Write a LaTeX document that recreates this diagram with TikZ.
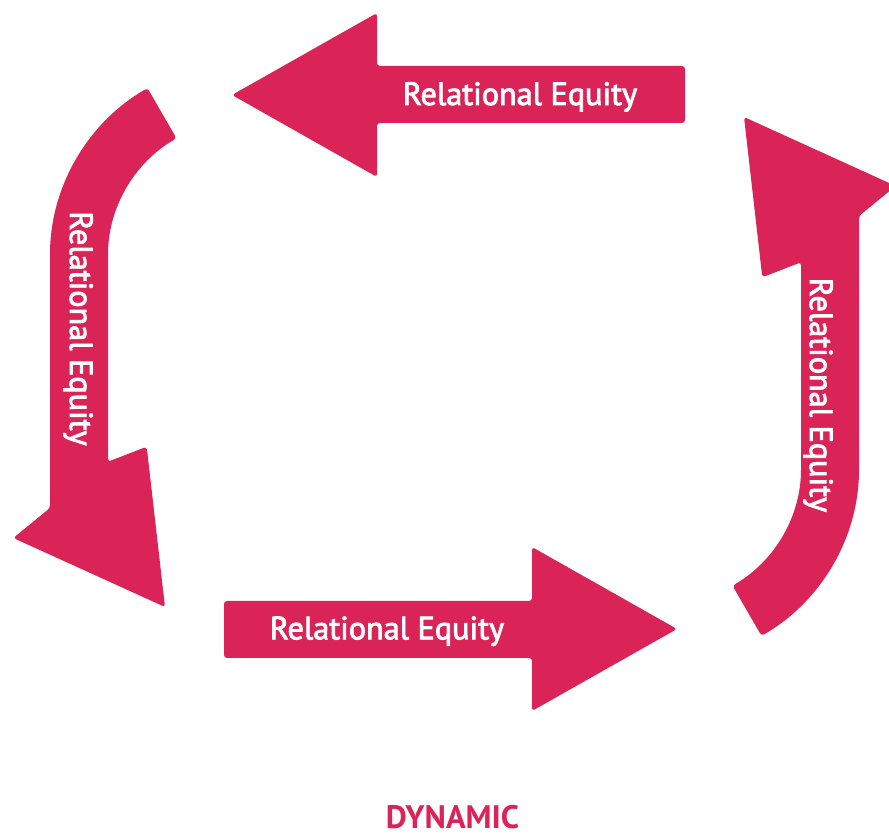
\documentclass[tikz,border=0pt]{standalone}
\usepackage{fontspec}
\setmainfont{PT Sans}
\newfontfamily\semiboldfont{PT Sans}[FakeBold=2.6]
\definecolor{crimson}{RGB}{218,36,88}
\begin{document}
\begin{tikzpicture}[x=1pt,y=1pt,
  blockarrow/.style={fill=crimson,draw=none,rounded corners=3pt},
  arrowlabel/.style={text=white,inner sep=0pt,font=\fontsize{32.2}{38}\semiboldfont},
  titlelabel/.style={text=crimson,inner sep=0pt,font=\fontsize{32.5}{38}\selectfont\bfseries}]
\useasboundingbox (0,0) rectangle (889,837);
\coordinate (mid) at (454.5,475);

% straight arrow pointing left (top) and its half-turn copy (bottom)
\path[blockarrow] (232,742) -- (377,824) -- (377,771) -- (685,771)
  -- (685,714) -- (377,714) -- (377,660) -- cycle;
\path[blockarrow,rotate around={180:(mid)}] (232,742) -- (377,824) -- (377,771) -- (685,771)
  -- (685,714) -- (377,714) -- (377,660) -- cycle;

% bent arrow on the left (down) and its half-turn copy on the right (up)
\path[blockarrow] (147.5,748.9) arc[start angle=120,end angle=180,radius=195]
  -- (50,329) -- (13.3,299) -- (165,230) -- (146.7,390.3) -- (108,375.3)
  -- (108,580) arc[start angle=180,end angle=120,radius=137] -- cycle;
\path[blockarrow,rotate around={180:(mid)}] (147.5,748.9) arc[start angle=120,end angle=180,radius=195]
  -- (50,329) -- (13.3,299) -- (165,230) -- (146.7,390.3) -- (108,375.3)
  -- (108,580) arc[start angle=180,end angle=120,radius=137] -- cycle;

% labels
\node[arrowlabel,anchor=base] (top) at (520,732) {Relational Equity};
\node[arrowlabel,anchor=base] (bottom) at (387,197.7) {Relational Equity};
\node[arrowlabel,anchor=base,rotate=-90] (left) at (70,508.5) {Relational Equity};
\node[arrowlabel,anchor=base,rotate=-90] (right) at (810,442) {Relational Equity};
\node[titlelabel,anchor=base] (title) at (452.5,8) {DYNAMIC};
\end{tikzpicture}
\end{document}
